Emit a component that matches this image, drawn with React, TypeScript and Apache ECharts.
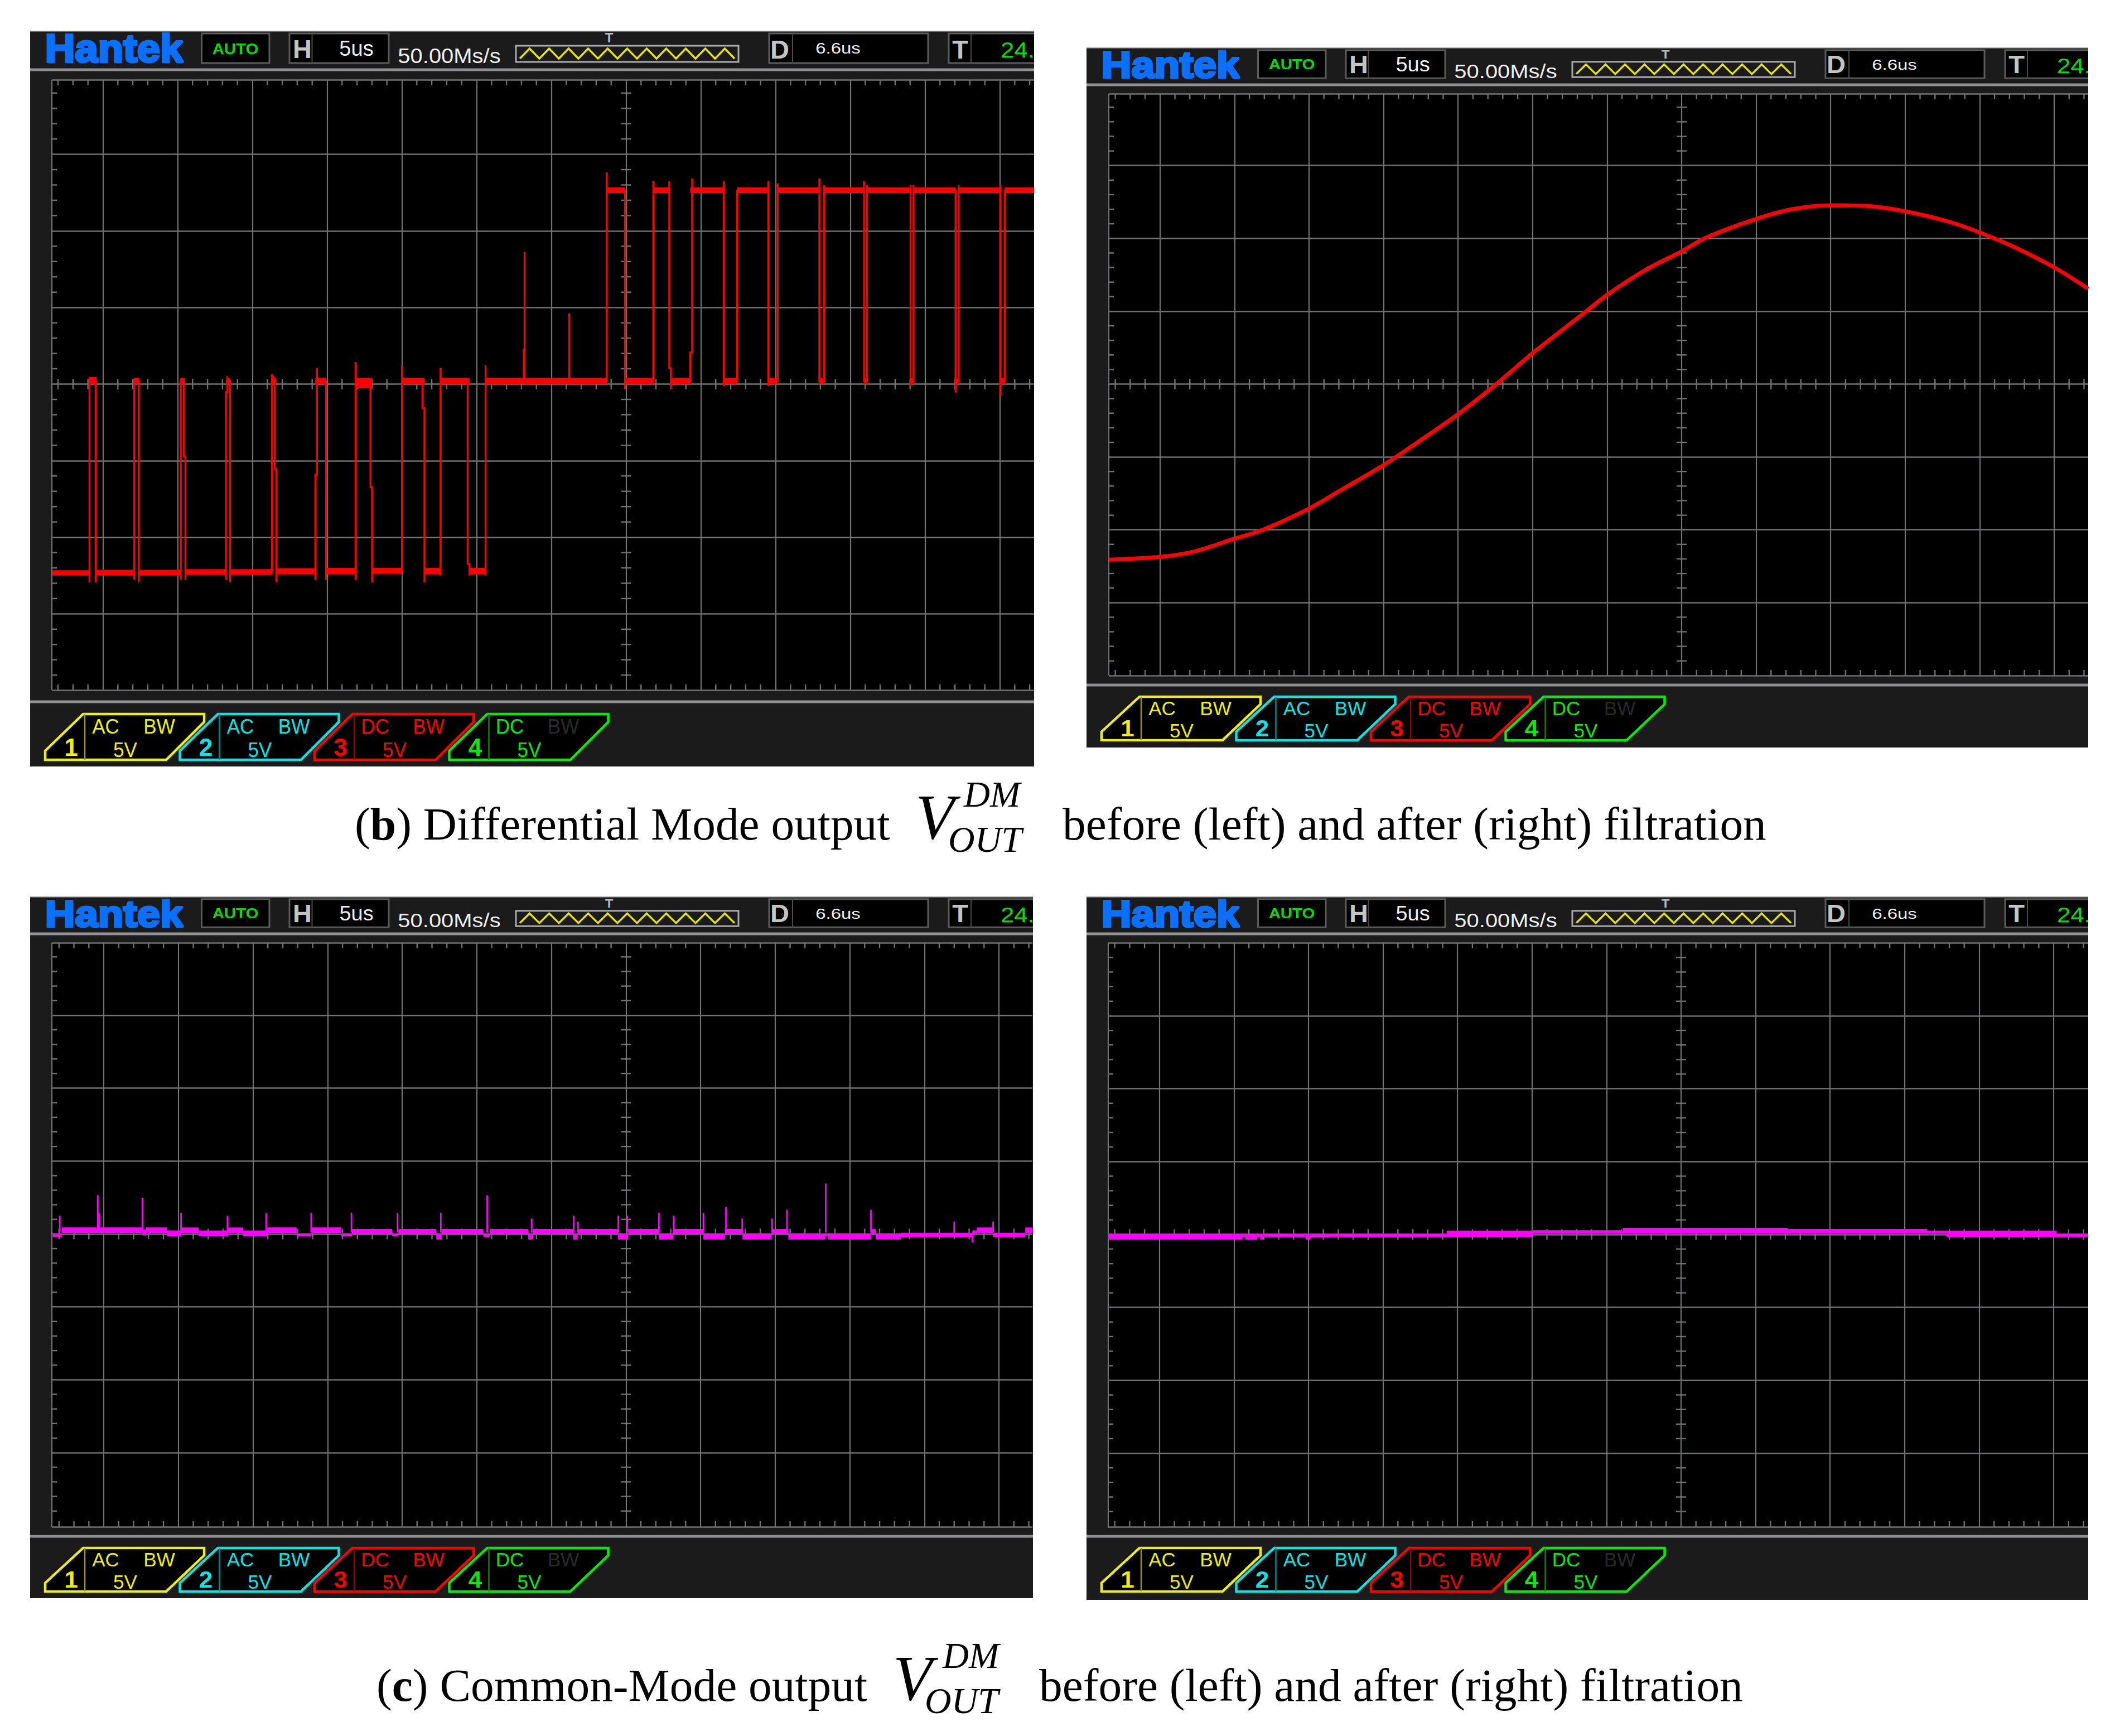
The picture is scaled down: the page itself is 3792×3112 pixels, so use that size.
import React, { useEffect, useRef } from "react";
import * as echarts from "echarts";

// Readings: x in microseconds from screen centre (5 us/div), y in volts (5 V/div)
const majorX = [-35, -30, -25, -20, -15, -10, -5, 0, 5, 10, 15, 20, 25];
const minorX = [-38, -37, -36, -34, -33, -32, -31, -29, -28, -27, -26, -24, -23, -22, -21, -19, -18, -17, -16, -14, -13, -12, -11, -9, -8, -7, -6, -4, -3, -2, -1, 1, 2, 3, 4, 6, 7, 8, 9, 11, 12, 13, 14, 16, 17, 18, 19, 21, 22, 23, 24, 26, 27];
const majorY = [-15, -10, -5, 0, 5, 10, 15];
const minorY = [-19, -18, -17, -16, -14, -13, -12, -11, -9, -8, -7, -6, -4, -3, -2, -1, 1, 2, 3, 4, 6, 7, 8, 9, 11, 12, 13, 14, 16, 17, 18, 19];

const dmBeforeTrace = [
  [-38.41, -12.3], [-35.9, -12.3], [-35.9, -12.95], [-35.9, 0.4], [-35.49, 0.4], [-35.49, -12.95], [-35.49, -12.3],
  [-32.9, -12.3], [-32.9, -12.76], [-32.9, 0.3], [-32.6, 0.3], [-32.6, -12.95], [-32.6, -12.3],
  [-29.79, -12.3], [-29.79, -12.76], [-29.79, 0.3], [-29.6, 0.3], [-29.6, -4.72], [-29.48, -4.72], [-29.48, -12.76], [-29.48, -12.3],
  [-26.77, -12.3], [-26.77, -12.76], [-26.77, -0.53], [-26.67, -0.53], [-26.67, 0.4], [-26.49, 0.2], [-26.49, -12.95], [-26.49, -12.3],
  [-23.69, -12.3], [-23.69, 0.64], [-23.5, 0.2], [-23.5, -5.55], [-23.4, -5.55], [-23.4, -12.95], [-23.4, -12.2],
  [-20.79, -12.2], [-20.79, -12.76], [-20.79, -5.92], [-20.68, -5.92], [-20.68, 1.04], [-20.68, 0.2], [-20.07, 0.2], [-20.07, -12.76], [-20.07, -12.2],
  [-18.1, -12.2], [-18.1, -12.76], [-18.1, 1.44], [-18.1, 0.2], [-17.1, 0.2], [-17.1, -6.72], [-16.99, -6.72], [-16.99, -12.95], [-16.99, -12.2],
  [-14.99, -12.2], [-14.99, 1.22], [-14.99, 0.2], [-13.62, 0.2], [-13.62, -1.55], [-13.49, -1.55], [-13.49, -12.95], [-13.49, -12.2],
  [-12.41, -12.2], [-12.41, -12.5], [-12.41, 1.04], [-12.41, 0.2], [-10.6, 0.2], [-10.6, -11.74], [-10.47, -11.74], [-10.47, -12.5], [-10.47, -12.2],
  [-9.4, -12.2], [-9.4, -12.5], [-9.4, 1.22], [-9.4, 0.2], [-6.85, 0.2], [-6.85, 2.24], [-6.79, 2.24], [-6.79, 8.61], [-6.79, 0.2],
  [-3.8, 0.2], [-3.8, 4.62], [-3.8, 0.2], [-1.29, 0.2], [-1.29, 13.82], [-1.29, 12.65], [-0.07, 12.65], [-0.07, -0.35], [-0.07, 0.2],
  [1.82, 0.2], [1.82, 13.24], [1.82, 12.65], [2.89, 12.65], [2.89, 13.24], [2.89, 1.04], [3.0, 1.04], [3.0, -0.35], [3.0, 0.2],
  [4.29, 0.2], [4.29, 2.06], [4.42, 2.06], [4.42, 13.42], [4.42, 12.65], [6.53, 12.65], [6.53, 13.24], [6.53, -0.13], [6.53, 0.2],
  [7.42, 0.2], [7.42, 12.62], [9.52, 12.65], [9.52, 13.24], [9.52, -0.13], [9.52, 0.2], [10.14, 0.2], [10.14, 13.1], [10.14, 12.65],
  [12.93, 12.65], [12.93, 13.42], [12.93, 0.2], [13.25, 0.2], [13.25, 13.0], [13.25, 12.65], [15.92, 12.65], [15.92, 13.24], [15.92, 0.2],
  [16.12, 0.2], [16.12, 13.0], [16.12, 12.65], [19.03, 12.65], [19.03, 13.0], [19.03, -0.13], [19.03, 0.2], [19.23, 0.2], [19.23, 13.0], [19.23, 12.65],
  [22.04, 12.65], [22.04, -0.55], [22.04, 0.2], [22.25, 0.2], [22.25, 13.0], [22.25, 12.65], [25.03, 12.65], [25.03, 13.0], [25.03, -0.77], [25.03, 0.2],
  [25.33, 0.2], [25.33, 12.65], [27.3, 12.65],
];

// Thick noise bands of the trace: [from, to, low, high]
const dmBeforeBands = [
  [-38.41, -35.9, -12.5, -12.15], [-35.49, -32.9, -12.5, -12.12], [-32.6, -29.79, -12.5, -12.12], [-29.48, -26.77, -12.45, -12.08], [-26.49, -23.69, -12.45, -12.08],
  [-23.41, -20.79, -12.4, -12.02], [-20.07, -18.1, -12.4, -12.0], [-16.99, -14.99, -12.38, -12.0], [-13.49, -12.41, -12.4, -12.0], [-10.47, -9.4, -12.4, -12.0],
  [-35.9, -35.49, 0.0, 0.42], [-32.9, -32.6, 0.0, 0.42], [-29.79, -29.51, 0.0, 0.42], [-26.77, -26.49, 0.0, 0.3], [-23.69, -23.41, 0.0, 0.42], [-20.79, -20.07, 0.0, 0.42], [-18.1, -16.99, -0.25, 0.42], [-14.99, -13.49, 0.0, 0.42], [-12.41, -10.47, 0.0, 0.42],
  [-9.4, -1.29, 0.0, 0.42], [-0.07, 1.82, 0.0, 0.42], [3.0, 4.29, 0.0, 0.42], [6.53, 7.42, 0.0, 0.42], [9.52, 10.14, 0.0, 0.42], [12.93, 13.25, 0.0, 0.42], [15.92, 16.12, 0.0, 0.42], [19.03, 19.23, 0.0, 0.42], [22.04, 22.25, 0.0, 0.42], [25.03, 25.33, 0.0, 0.42],
  [-1.29, -0.07, 12.47, 12.84], [1.82, 2.89, 12.47, 12.84], [4.29, 6.53, 12.47, 12.84], [7.42, 9.52, 12.47, 12.84], [10.14, 12.93, 12.47, 12.84], [13.25, 15.92, 12.47, 12.84], [16.12, 19.03, 12.47, 12.84], [19.23, 22.04, 12.47, 12.84], [22.25, 25.03, 12.47, 12.84], [25.33, 27.3, 12.47, 12.84],
];

const dmAfterTime = [-38.44, -35.05, -32.7, -30.08, -28.18, -25.07, -22.76, -20.05, -17.8, -15.04, -12.38, -10.03, -6.5, -5.01, -2.44, 0, 1.63, 4.97, 7.5, 10.03, 12.47, 15.04, 17.89, 20.05, 22.4, 25.02, 27.28];
const dmAfterVolt = [-12.05, -11.86, -11.49, -10.63, -10.03, -8.58, -7.21, -5.59, -4.05, -2.09, 0.05, 2.1, 4.92, 6.12, 7.83, 9.11, 10.05, 11.33, 12.02, 12.27, 12.22, 11.85, 11.16, 10.39, 9.37, 8.0, 6.55];

const cmBeforeBands = [
  [-38.42, -37.82, -0.19, 0.04], [-37.82, -32.41, 0.08, 0.446], [-32.41, -32.16, -0.1, 0.3], [-32.16, -30.76, 0.064, 0.446], [-30.76, -29.8, -0.166, 0.242], [-29.8, -28.64, 0.064, 0.446],
  [-28.64, -26.66, -0.166, 0.242], [-26.66, -25.65, 0.064, 0.446], [-25.65, -24.04, -0.166, 0.242], [-24.04, -22.07, 0.064, 0.446], [-22.07, -21.08, -0.166, 0.038], [-21.08, -19.07, 0.064, 0.446],
  [-19.07, -18.36, -0.166, 0.038], [-18.36, -15.67, 0.0, 0.34], [-15.67, -15.25, -0.166, 0.038], [-15.25, -12.71, 0.0, 0.34], [-12.71, -12.35, -0.383, 0.038], [-12.35, -9.56, 0.0, 0.34],
  [-9.56, -9.13, -0.19, 0.038], [-9.13, -6.55, 0.0, 0.34], [-6.55, -6.23, -0.383, 0.038], [-6.23, -3.54, 0.0, 0.34], [-3.54, -3.24, -0.383, 0.038], [-3.24, -0.53, 0.0, 0.34],
  [-0.53, 0.15, -0.383, 0.038], [0.15, 2.19, 0.0, 0.34], [2.19, 3.16, -0.383, 0.038], [3.16, 5.19, 0.0, 0.34], [5.19, 6.63, -0.383, 0.038], [6.63, 7.81, 0.0, 0.34],
  [7.81, 9.76, -0.383, 0.038], [9.76, 10.88, 0.0, 0.34], [10.88, 13.35, -0.383, 0.038], [13.35, 13.56, -0.166, 0.038], [13.56, 16.42, -0.383, 0.038], [16.42, 16.74, 0.0, 0.34],
  [16.74, 18.43, -0.383, 0.038], [18.43, 23.22, -0.22, 0.09], [23.22, 23.5, 0.038, 0.242], [23.5, 24.61, 0.064, 0.446], [24.61, 26.76, -0.22, 0.09], [26.76, 27.25, 0.064, 0.446],
];
const cmBeforeSpikeTime = [-37.95, -35.4, -35.31, -32.41, -29.82, -26.71, -24.11, -21.1, -18.4, -15.31, -12.41, -9.3, -6.32, -3.5, -3.22, -0.51, 0.09, 2.21, 3.2, 5.19, 6.7, 7.79, 9.79, 10.79, 13.39, 16.42, 22.0, 24.61, 23.22];
const cmBeforeSpikeVolt = [1.25, 2.65, 1.44, 2.45, 1.44, 1.25, 1.44, 1.44, 1.44, 1.44, 1.44, 2.65, 1.06, 1.25, 0.85, 1.25, 1.25, 1.44, 1.25, 1.44, 1.85, 1.06, 1.06, 1.66, 3.46, 1.66, 0.85, 0.85, -0.57];

const cmAfterBands = [
  [-38.44, -30.02, -0.357, 0.064], [-30.02, -29.45, -0.357, 0.064], [-29.45, -29.24, -0.153, 0.064], [-29.24, -28.45, -0.357, 0.064], [-28.45, -28.24, -0.153, 0.064], [-28.24, -28.02, -0.357, 0.064],
  [-28.02, -25.2, -0.153, 0.064], [-25.2, -24.89, -0.357, 0.064], [-24.89, -23.5, -0.2, 0.064], [-23.5, -15.73, -0.153, 0.064], [-15.73, -14.12, -0.153, 0.255], [-14.12, -9.99, -0.153, 0.255],
  [-9.99, -3.91, 0.064, 0.3], [-3.91, 2.61, 0.064, 0.459], [2.61, 7.17, 0.064, 0.459], [7.17, 16.51, 0.064, 0.38], [16.51, 17.81, 0.064, 0.255], [17.81, 25.19, -0.153, 0.255], [25.19, 27.28, -0.153, 0.064],
];

const channelLabels = ["AC", "AC", "DC", "DC"];
const channelNames = ["1", "2", "3", "4"];
const scopeTexts = { brand: "Hantek", mode: "AUTO", horizontal: "5us", rate: "50.00Ms/s", delay: "6.6us", temp: "24.1", volts: "5V" };

const GRID_COLOR = "#6f7173";
const PANELS = [
  { left: 54, right: 1854, top: 56, hSep: 125, gL: 93, gR: 1854, gT: 143, gB: 1237, bSep: 1258, bottom: 1374, cx: 1122.5, cy: 688.5, pu: 26.8, pv: 27.46, s: 1 },
  { left: 1948, right: 3744, top: 86, hSep: 152, gL: 1988, gR: 3744, gT: 168, gB: 1211, bSep: 1228, bottom: 1340, cx: 3015, cy: 688.5, pu: 26.72, pv: 26.12, s: 0.95 },
  { left: 54, right: 1852, top: 1608, hSep: 1674, gL: 93, gR: 1851, gT: 1690, gB: 2737, bSep: 2754, bottom: 2865, cx: 1122.3, cy: 2212, pu: 26.75, pv: 26.14, s: 0.95 },
  { left: 1948, right: 3744, top: 1608, hSep: 1674, gL: 1987, gR: 3744, gT: 1690, gB: 2737, bSep: 2754, bottom: 2868, cx: 3014, cy: 2213, pu: 26.72, pv: 26.14, s: 0.95 },
];

const UI = "Liberation Sans";
const SERIF = "Liberation Serif";
const CAPTION_SIZE = 83.4;

function txt(text: string, x: number, y: number, size: number, fill: string, o: any = {}) {
  return {
    type: "text", x, y, z: 10, scaleX: o.sx ?? 1, scaleY: o.sy ?? 1,
    style: {
      text, fontSize: size, fontFamily: o.font ?? UI, fontWeight: o.weight ?? "normal", fontStyle: o.style ?? "normal",
      fill, textAlign: o.align ?? "center", textVerticalAlign: "middle",
      stroke: o.stroke, lineWidth: o.lw ?? 0,
    },
  };
}
function box(x: number, y: number, w: number, h: number, divider?: number) {
  const out: any[] = [{ type: "rect", z: 5, shape: { x, y, width: w, height: h }, style: { fill: "#000", stroke: "#5c5c5c", lineWidth: 3 } }];
  if (divider) out.push({ type: "line", z: 6, shape: { x1: divider, y1: y, x2: divider, y2: y + h }, style: { stroke: "#4a4a4a", lineWidth: 2 } });
  return out;
}
function headerChildren() {
  const zig: number[][] = [];
  for (let i = 0; i <= 22; i++) zig.push([932 + i * 17.5, i % 2 ? 31 : 49]);
  return [
    txt(scopeTexts.brand, 204.5, 31, 70, "#0a70ff", { weight: "bold", sx: 1.06, stroke: "#0a70ff", lw: 4 }),
    ...box(361.5, 4, 121.5, 53),
    txt(scopeTexts.mode, 422, 31, 28, "#00dd00", { weight: "bold", sx: 1.05 }),
    ...box(519, 4, 178, 53, 559.5),
    txt("H", 542, 31, 47, "#c4c4c4", { weight: "bold" }),
    txt(scopeTexts.horizontal, 639, 31, 38, "#eeeeee"),
    txt(scopeTexts.rate, 805.5, 44.5, 37, "#eeeeee", { sx: 1.08 }),
    { type: "rect", z: 6, shape: { x: 925, y: 26, width: 399, height: 29 }, style: { fill: "transparent", stroke: "#a8aaae", lineWidth: 3 } },
    { type: "polyline", z: 7, shape: { points: zig }, style: { fill: "none", stroke: "#e6e600", lineWidth: 3.5 } },
    txt("T", 1092, 11.5, 24, "#b8b8b8", { weight: "bold" }),
    ...box(1379, 4, 285, 53, 1421),
    txt("D", 1398, 32, 47, "#c4c4c4", { weight: "bold" }),
    txt(scopeTexts.delay, 1502.5, 31, 27, "#eeeeee", { sx: 1.22 }),
    ...box(1701, 4, 240, 53, 1741),
    txt("T", 1721.5, 32, 47, "#c4c4c4", { weight: "bold" }),
    txt(scopeTexts.temp, 1794, 34, 38, "#00e000", { align: "left", sx: 1.15 }),
  ];
}
function footerChildren() {
  const colors = ["#f0f000", "#00e8e8", "#ff0000", "#00ee00"];
  const dark = ["#9a9a00", "#008c8c", "#a00000", "#009000"];
  const out: any[] = [];
  colors.forEach((c, i) => {
    const d = i * 241.5;
    out.push({ type: "polygon", z: 5, shape: { points: [[149 + d, 22], [366 + d, 22], [366 + d, 36], [298 + d, 104], [81 + d, 104], [81 + d, 88]] }, style: { fill: "#000", stroke: c, lineWidth: 4.5 } });
    out.push({ type: "line", z: 6, shape: { x1: 152 + d, y1: 22, x2: 152 + d, y2: 104 }, style: { stroke: dark[i], lineWidth: 2.5 } });
    out.push(txt(channelLabels[i], 189.5 + d, 44, 35, c, { sy: 1.06 }));
    out.push(txt("BW", 285.5 + d, 44, 35, i === 3 ? "#2a2a2a" : c, { sy: 1.06 }));
    out.push(txt(scopeTexts.volts, 224.5 + d, 86, 35, c, { sy: 1.06 }));
    out.push(txt(channelNames[i], 127.5 + d, 81, 44, c, { weight: "bold" }));
  });
  return out;
}
function panelGraphics(p: any) {
  const dx = p.left - 54;
  return [
    { type: "rect", z: -10, shape: { x: p.left, y: p.top, width: p.right - p.left, height: p.bottom - p.top }, style: { fill: "#1c1b1c" } },
    { type: "line", z: -9, shape: { x1: p.left, y1: p.top, x2: p.right, y2: p.top }, style: { stroke: "#8a8a8a", lineWidth: 1.5 } },
    { type: "line", z: -9, shape: { x1: p.left, y1: p.hSep, x2: p.right, y2: p.hSep }, style: { stroke: "#8e9094", lineWidth: 5 } },
    { type: "line", z: -9, shape: { x1: p.left, y1: p.bSep, x2: p.right, y2: p.bSep }, style: { stroke: "#8e9094", lineWidth: 5 } },
    { type: "group", x: dx, y: p.top, scaleY: p.s, children: headerChildren() },
    { type: "group", x: dx, y: p.bSep, scaleY: p.s, children: footerChildren() },
    { type: "rect", z: 20, shape: { x: p.right, y: p.top - 2, width: 94, height: 90 }, style: { fill: "#fff" } },
  ];
}
function caption(letter: string, before: string, after: string, bx: number, vx: number, dmx: number, outx: number, ax: number, base: number) {
  const c = base - 27;
  return [
    {
      type: "text", x: bx, y: c, z: 10,
      style: {
        text: `{n|(}{b|${letter}}{n|) ${before}}`, textAlign: "left", textVerticalAlign: "middle",
        rich: { n: { fontSize: CAPTION_SIZE, fontFamily: SERIF, fill: "#000" }, b: { fontSize: CAPTION_SIZE, fontFamily: SERIF, fontWeight: "bold", fill: "#000" } },
      },
    },
    txt("V", vx, base - 40, 115, "#000", { font: SERIF, style: "italic", align: "left" }),
    txt("DM", dmx, base - 80, 65, "#000", { font: SERIF, style: "italic", align: "left" }),
    txt("OUT", outx, base, 66, "#000", { font: SERIF, style: "italic", align: "left" }),
    txt(after, ax, c, CAPTION_SIZE, "#000", { font: SERIF, align: "left" }),
  ];
}

const tickRender = (color: string) => (_: any, api: any) => {
  const a = api.coord([api.value(0), api.value(1)]);
  return {
    type: "line",
    shape: { x1: a[0] + api.value(2), y1: a[1] + api.value(3), x2: a[0] + api.value(4), y2: a[1] + api.value(5) },
    style: { stroke: color, lineWidth: 2.4 },
  };
};
const bandRender = (color: string) => (_: any, api: any) => {
  const a = api.coord([api.value(0), api.value(3)]);
  const b = api.coord([api.value(1), api.value(2)]);
  return { type: "rect", shape: { x: a[0], y: a[1], width: b[0] - a[0], height: b[1] - a[1] }, style: { fill: color } };
};
const spikeRender = (color: string) => (_: any, api: any) => {
  const a = api.coord([api.value(0), api.value(1)]);
  const b = api.coord([api.value(0), 0.1]);
  return { type: "line", shape: { x1: a[0], y1: a[1], x2: b[0], y2: b[1] }, style: { stroke: color, lineWidth: 2.8 } };
};

function buildOption() {
  const grid: any[] = [], xAxis: any[] = [], yAxis: any[] = [], series: any[] = [], graphic: any[] = [];
  PANELS.forEach((p, i) => {
    const xMin = (p.gL - p.cx) / p.pu, xMax = (p.gR - p.cx) / p.pu;
    const yMax = (p.cy - p.gT) / p.pv, yMin = (p.cy - p.gB) / p.pv;
    grid.push({ left: p.gL, top: p.gT, width: p.gR - p.gL, height: p.gB - p.gT, show: true, backgroundColor: "#000", borderWidth: 0 });
    xAxis.push({
      gridIndex: i, type: "value", min: xMin, max: xMax, axisLine: { show: false }, axisLabel: { show: false },
      axisTick: { show: false, customValues: [xMin, ...majorX] },
      splitLine: { show: true, lineStyle: { color: GRID_COLOR, width: 2.2 } },
    });
    yAxis.push({
      gridIndex: i, type: "value", min: yMin, max: yMax, axisLine: { show: false }, axisLabel: { show: false },
      axisTick: { show: false, customValues: [yMin, ...majorY, yMax] },
      splitLine: { show: true, lineStyle: { color: GRID_COLOR, width: 2.5 } },
    });
    const ticks: number[][] = [];
    minorX.forEach((x) => {
      ticks.push([x, yMax, 0, 0, 0, 10], [x, yMin, 0, 0, 0, -10], [x, 0, 0, -9.5, 0, 9.5]);
    });
    minorY.forEach((y) => {
      ticks.push([xMin, y, 0, 0, 9, 0], [0, y, -9, 0, 9, 0]);
    });
    series.push({ type: "custom", xAxisIndex: i, yAxisIndex: i, data: ticks, renderItem: tickRender(GRID_COLOR), z: 1, silent: true });
    graphic.push(...panelGraphics(p));
  });
  const RED = "#ff0000", MAG = "#ff00ff";
  series.push({ type: "custom", xAxisIndex: 0, yAxisIndex: 0, data: dmBeforeBands, renderItem: bandRender(RED), z: 3, silent: true });
  series.push({ type: "line", xAxisIndex: 0, yAxisIndex: 0, data: dmBeforeTrace, showSymbol: false, lineStyle: { color: RED, width: 3.4, join: "miter" }, z: 4, silent: true });
  series.push({ type: "line", xAxisIndex: 1, yAxisIndex: 1, data: dmAfterTime.map((t, k) => [t, dmAfterVolt[k]]), showSymbol: false, smooth: 0.3, lineStyle: { color: RED, width: 7 }, z: 4, silent: true });
  series.push({ type: "custom", xAxisIndex: 2, yAxisIndex: 2, data: cmBeforeBands, renderItem: bandRender(MAG), z: 3, silent: true });
  series.push({ type: "custom", xAxisIndex: 2, yAxisIndex: 2, data: cmBeforeSpikeTime.map((t, k) => [t, cmBeforeSpikeVolt[k]]), renderItem: spikeRender(MAG), z: 4, silent: true });
  series.push({ type: "custom", xAxisIndex: 3, yAxisIndex: 3, data: cmAfterBands, renderItem: bandRender(MAG), z: 3, silent: true });
  graphic.push(...caption("b", "Differential Mode output", "before (left) and after (right) filtration", 636, 1641, 1728, 1700, 1905, 1504));
  graphic.push(...caption("c", "Common-Mode output", "before (left) and after (right) filtration", 675, 1601, 1690, 1658, 1863, 3048));
  return { animation: false, backgroundColor: "#ffffff", grid, xAxis, yAxis, series, graphic };
}

export default function App() {
  const ref = useRef<HTMLDivElement>(null);
  useEffect(() => {
    const chart = echarts.init(ref.current!, undefined, { renderer: "svg" });
    chart.setOption(buildOption() as any);
    return () => chart.dispose();
  }, []);
  return <div ref={ref} style={{ position: "absolute", left: 0, top: 0, width: 3792, height: 3112 }} />;
}
